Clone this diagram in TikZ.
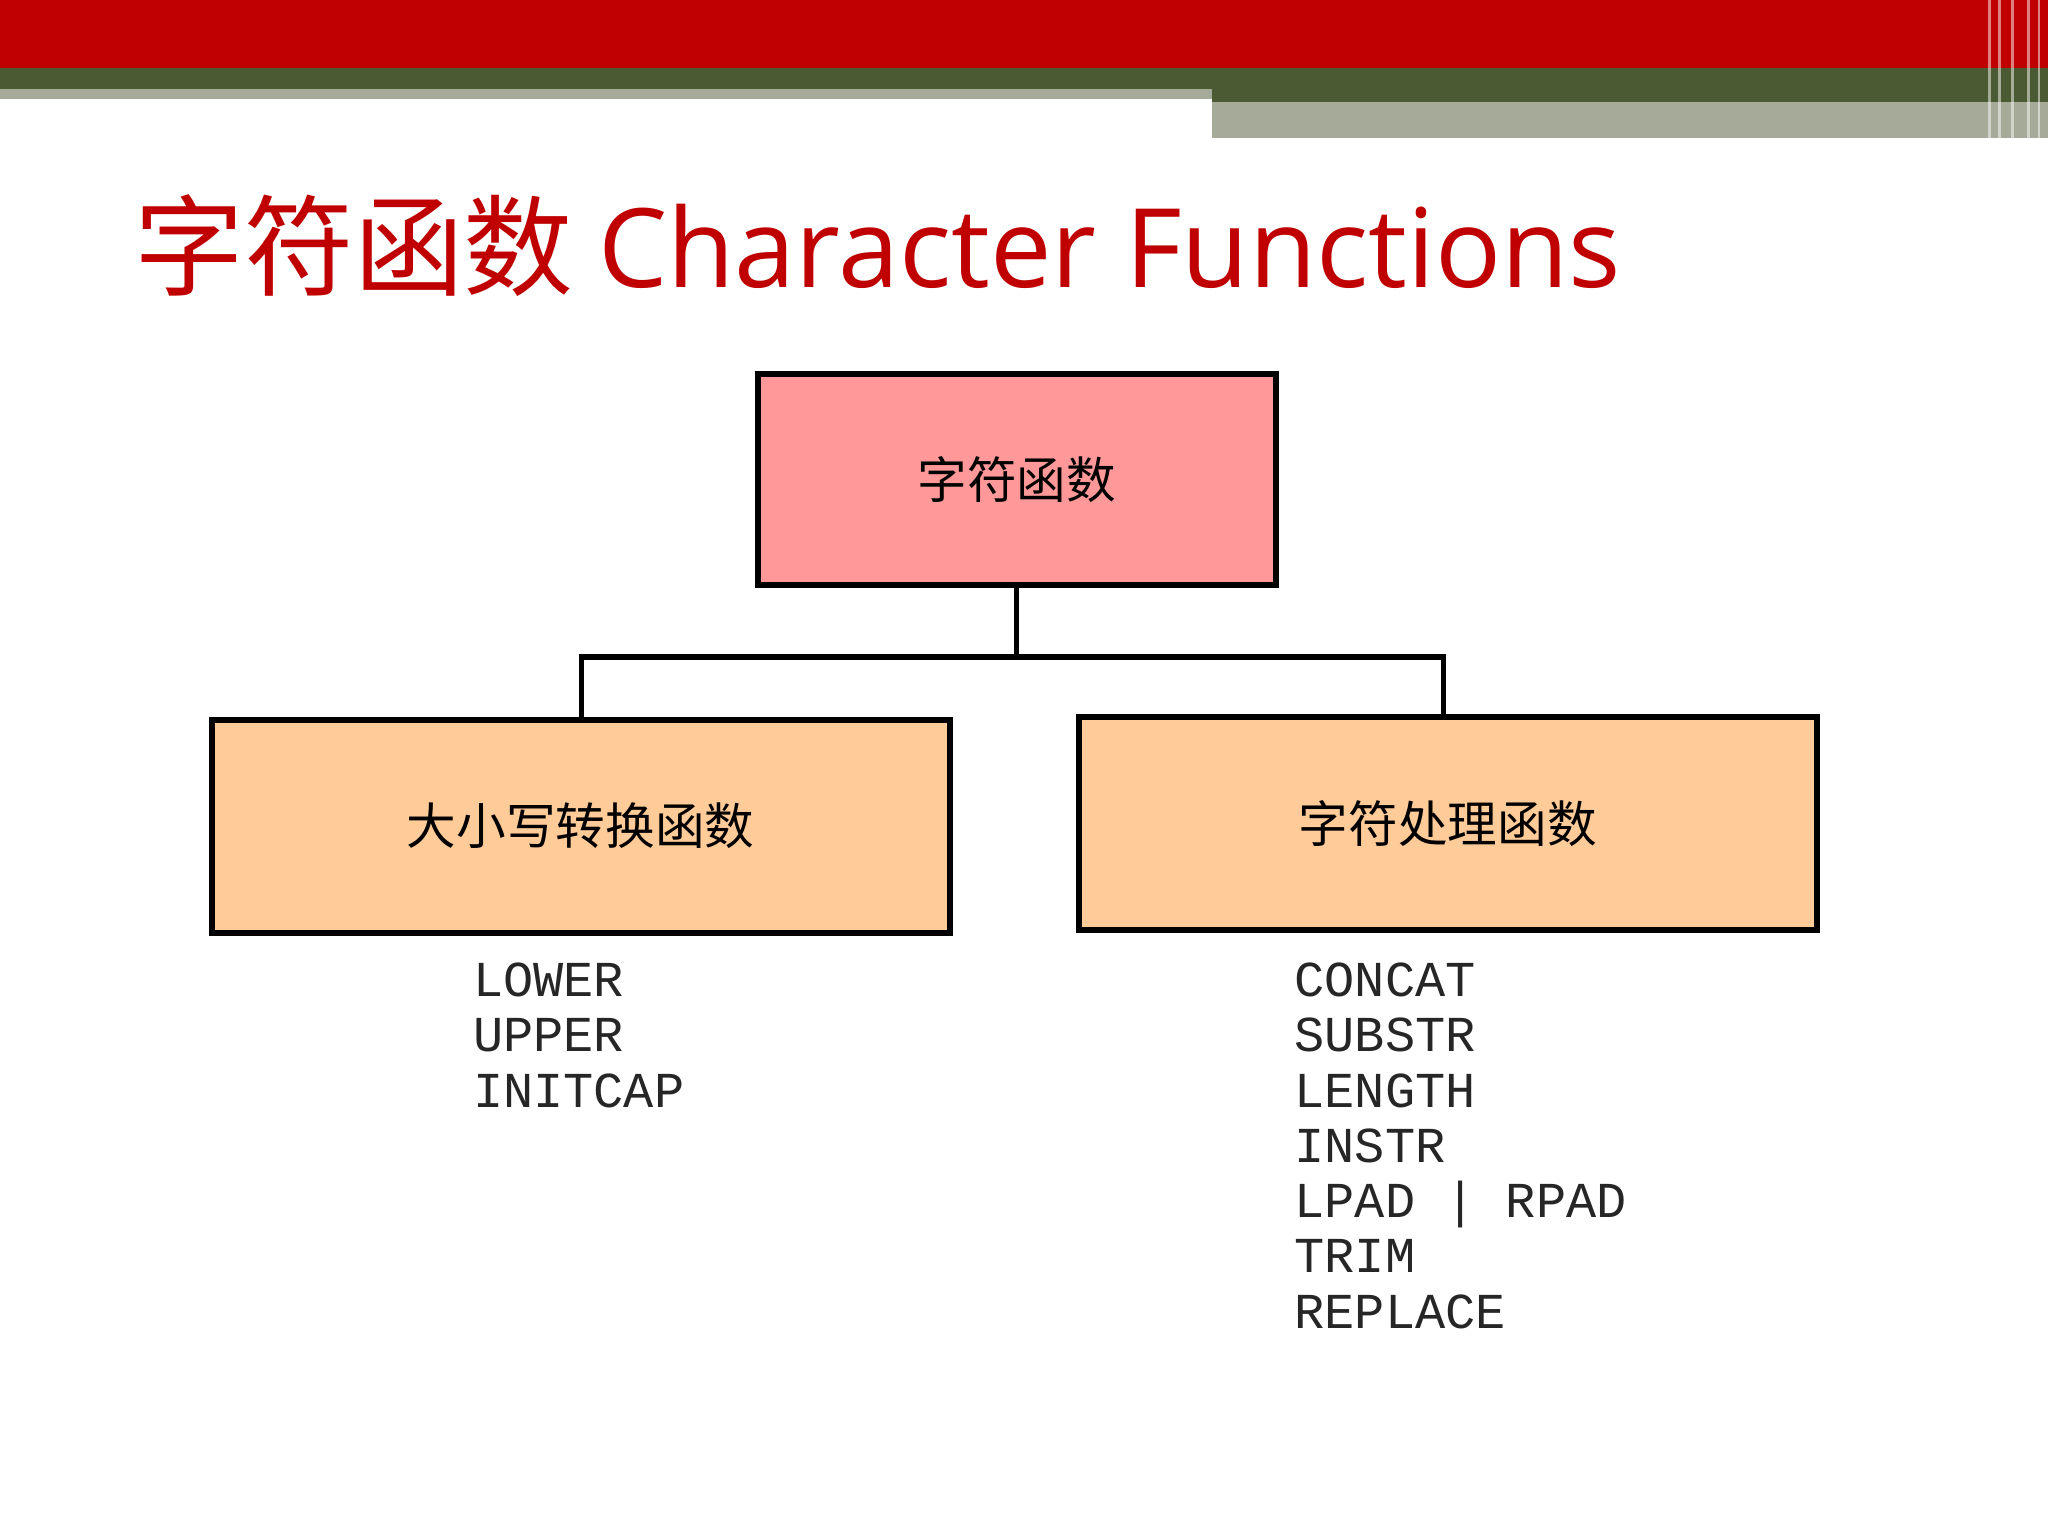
\documentclass[tikz,border=0pt]{standalone}
\usepackage{fontspec}
\setmainfont{Liberation Serif}
\newfontfamily\cjk{Noto Sans CJK SC}
\newfontfamily\titlefont{Open Sans}
\newfontfamily\monofont{Liberation Mono}
\definecolor{topred}{HTML}{C00000}
\definecolor{darkgreen}{HTML}{4A5A32}
\definecolor{graygreen}{HTML}{A6AA98}
\definecolor{pinkfill}{HTML}{FF9999}
\definecolor{peach}{HTML}{FFCC99}
\tikzset{box/.style={draw=black,line width=4.5pt,minimum width=#1,inner sep=0pt},
 conn/.style={draw=black,line width=4pt},
 lst/.style={font=\monofont\fontsize{38.5}{42.3}\selectfont,align=left,anchor=north west,inner sep=0pt,text=black!85}}
\begin{document}
\begin{tikzpicture}[x=1pt,y=-1pt]
\useasboundingbox (0,0) rectangle (1568,1176);
\fill[white] (0,0) rectangle (1568,1176);
\fill[topred] (0,0) rectangle (1568,52);
\fill[darkgreen] (0,52) rectangle (1568,68);
\fill[graygreen] (0,68) rectangle (928,76);
\fill[darkgreen] (928,68) rectangle (1568,78);
\fill[graygreen] (928,78) rectangle (1568,106);
\foreach \x in {1522,1530,1540,1552,1560}{\fill[white,opacity=0.5] (\x,0) rectangle (\x+2,106);}
\node[anchor=base west,inner sep=0pt,text=topred] (title) at (103,220)
 {\cjk\fontsize{84}{90}\selectfont 字符函数 \titlefont Character Functions};
\node[box=397pt,minimum height=162pt,fill=pinkfill] (top) at (778.5,367)
 {\cjk\fontsize{38}{40}\selectfont 字符函数};
\node[box=565pt,minimum height=163pt,fill=peach] (left) at (444.5,632.5)
 {\cjk\fontsize{38}{40}\selectfont 大小写转换函数};
\node[box=565pt,minimum height=163pt,fill=peach] (right) at (1108.5,630.5)
 {\cjk\fontsize{38}{40}\selectfont 字符处理函数};
\coordinate (mid) at (778.5,503);
\draw[conn] (top.south) -- (mid);
\draw[conn,line join=miter] (left.north -| 445,0) |- (mid) -| (right.north -| 1105,0);
\node[lst] (l1) at (362,737) {LOWER\\UPPER\\INITCAP};
\node[lst] (l2) at (991,737) {CONCAT\\SUBSTR\\LENGTH\\INSTR\\LPAD | RPAD\\TRIM\\REPLACE};
\end{tikzpicture}
\end{document}
